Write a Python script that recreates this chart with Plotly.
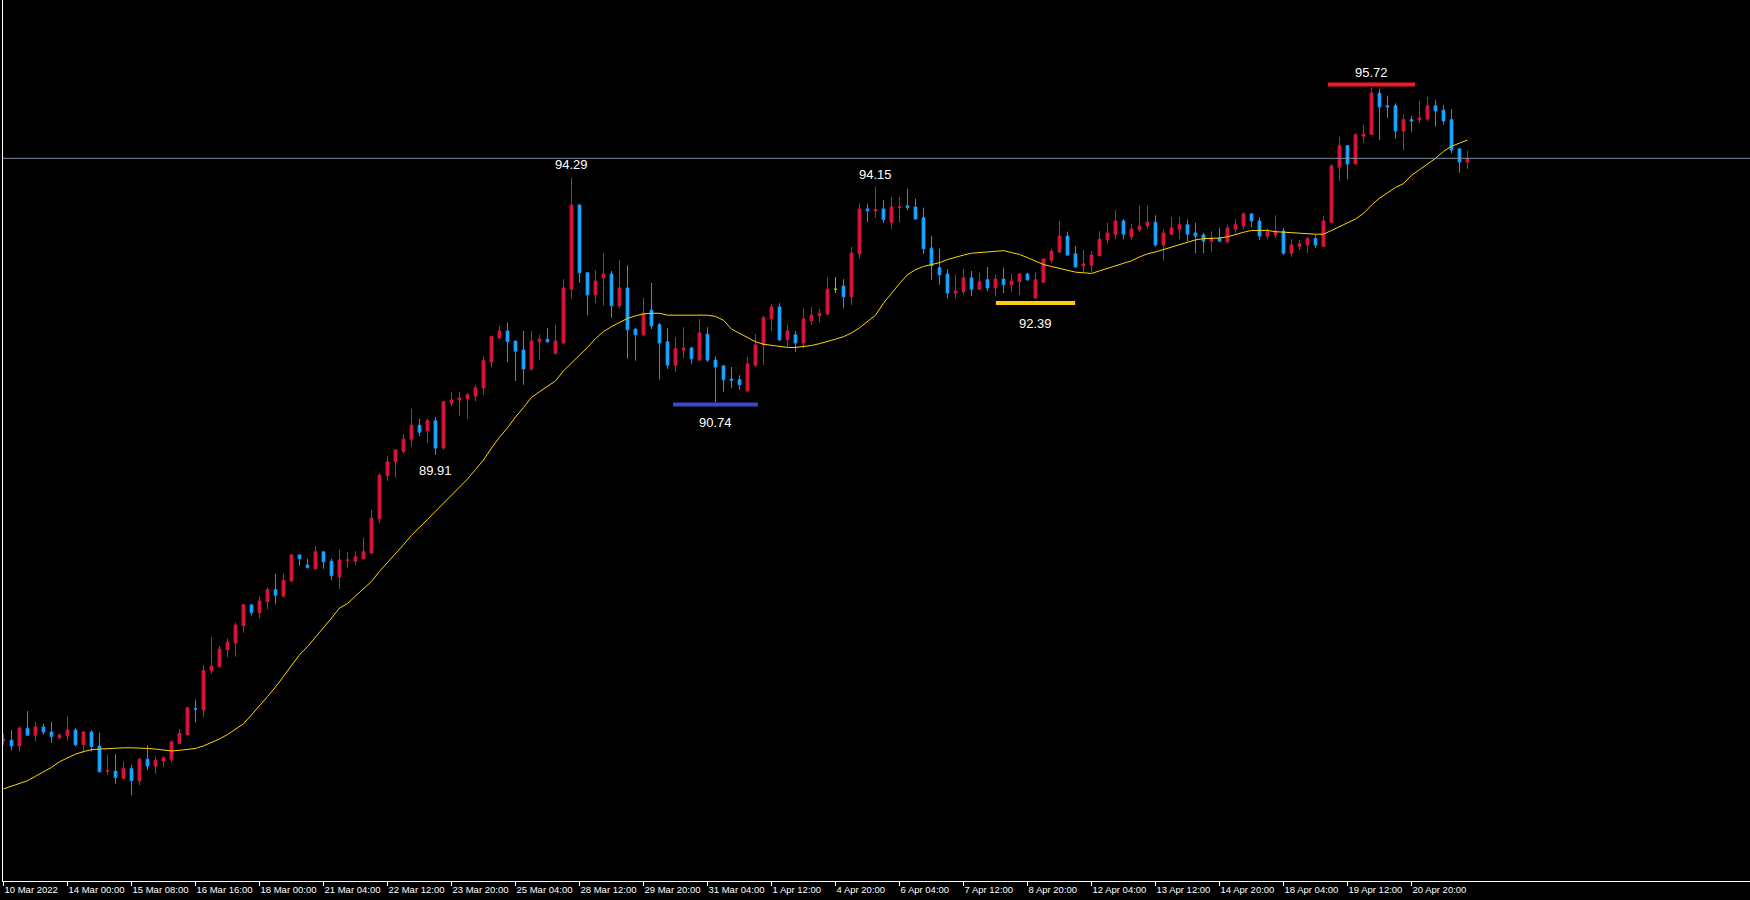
import plotly.graph_objects as go

# ---- OHLC data (4H bars) ----
opens = [85.39,85.40,85.31,85.59,85.48,85.61,85.53,85.44,85.47,85.56,85.33,85.53,85.31,84.91,84.91,84.80,84.95,84.76,85.10,84.99,
         85.07,85.10,85.35,85.49,85.90,85.88,86.50,86.56,86.83,86.94,87.21,87.54,87.42,87.59,87.78,87.68,87.92,88.33,88.17,88.11,
         88.38,88.23,87.98,88.24,88.23,88.27,88.36,88.90,89.58,89.80,89.97,90.16,90.38,90.29,90.45,90.02,90.73,90.78,90.80,90.84,
         90.97,91.38,91.76,91.87,91.71,91.57,91.27,91.70,91.74,91.52,91.68,92.53,93.86,92.79,92.44,92.71,92.77,92.27,92.55,91.90,
         91.81,92.20,91.97,91.70,91.33,91.57,91.60,91.41,91.82,91.41,91.32,91.11,91.10,90.92,91.33,91.65,92.06,92.25,91.73,91.81,
         91.68,92.03,92.11,92.14,92.53,92.58,92.41,93.09,93.80,93.77,93.80,93.59,93.82,93.85,93.83,93.66,93.18,92.87,92.77,92.47,
         92.49,92.71,92.53,92.68,92.55,92.69,92.60,92.65,92.77,92.39,92.64,92.99,93.12,93.37,93.09,92.90,92.91,93.06,93.31,93.40,
         93.61,93.36,93.47,93.53,93.59,93.23,93.40,93.48,93.55,93.42,93.39,93.29,93.34,93.28,93.48,93.53,93.72,93.61,93.37,93.39,
         93.45,93.10,93.21,93.23,93.33,93.21,93.59,94.46,94.80,94.51,94.95,94.98,95.63,95.43,95.43,95.03,95.21,95.21,95.22,95.43,
         95.36,95.21,94.75,94.54]
highs = [85.50,85.56,85.62,85.86,85.69,85.66,85.69,85.51,85.78,85.59,85.54,85.56,85.52,85.17,85.18,85.06,85.01,85.12,85.32,85.14,
         85.15,85.40,85.58,85.93,86.04,86.59,87.03,86.89,87.01,87.26,87.55,87.54,87.68,87.82,88.03,88.03,88.34,88.33,88.27,88.47,
         88.38,88.27,88.41,88.38,88.39,88.60,89.04,89.62,89.89,89.99,90.24,90.64,90.48,90.49,90.51,90.76,90.91,90.91,90.89,91.02,
         91.47,91.79,91.95,92.00,91.72,91.87,91.87,91.81,91.92,91.97,92.69,94.29,93.88,92.80,92.83,93.10,92.82,92.99,92.91,91.91,
         92.39,92.63,92.00,91.92,91.77,91.93,91.62,92.06,91.93,91.47,91.32,91.30,91.17,91.46,91.82,92.11,92.30,92.31,91.97,91.87,
         92.23,92.25,92.22,92.72,92.72,92.69,93.20,93.89,93.88,94.15,93.94,93.99,93.99,94.12,93.96,93.82,93.37,93.17,92.85,92.76,
         92.85,92.82,92.79,92.88,92.76,92.87,92.77,92.79,92.79,92.80,93.01,93.17,93.61,93.44,93.21,93.15,93.13,93.45,93.58,93.78,
         93.64,93.56,93.85,93.85,93.70,93.47,93.67,93.67,93.63,93.58,93.42,93.45,93.50,93.55,93.64,93.75,93.73,93.67,93.50,93.70,
         93.50,93.32,93.31,93.36,93.39,93.69,94.51,94.94,94.81,95.00,95.13,95.72,95.70,95.59,95.47,95.29,95.27,95.51,95.57,95.52,
         95.44,95.38,94.75,94.72]
lows = [85.32,85.24,85.22,85.47,85.38,85.49,85.36,85.41,85.39,85.30,85.20,85.22,84.89,84.85,84.71,84.78,84.53,84.69,84.93,84.87,
        84.97,85.05,85.34,85.47,85.68,85.76,86.45,86.55,86.71,86.72,87.10,87.37,87.33,87.47,87.55,87.65,87.90,88.16,88.11,88.10,
        88.11,87.93,87.79,88.12,88.17,88.26,88.35,88.83,89.50,89.55,89.93,90.04,90.21,90.10,89.91,89.99,90.68,90.53,90.48,90.76,
        90.86,91.29,91.76,91.38,91.08,91.02,91.24,91.41,91.68,91.49,91.67,92.38,92.63,92.12,92.31,92.27,92.08,92.23,91.43,91.40,
        91.79,91.90,91.10,91.27,91.22,91.44,91.35,91.40,91.38,90.74,90.91,90.97,90.94,90.92,91.30,91.33,91.87,91.71,91.62,91.54,
        91.60,91.97,92.01,92.12,92.47,92.23,92.28,93.02,93.59,93.66,93.58,93.48,93.59,93.78,93.63,93.09,92.68,92.60,92.38,92.38,
        92.44,92.42,92.52,92.50,92.42,92.47,92.49,92.44,92.66,92.39,92.64,92.94,93.10,93.06,92.88,92.80,92.80,93.05,93.25,93.32,
        93.32,93.31,93.44,93.48,93.20,92.98,93.39,93.32,93.29,93.10,93.10,93.12,93.28,93.25,93.42,93.48,93.51,93.31,93.32,93.34,
        93.07,93.04,93.15,93.10,93.18,93.20,93.58,94.24,94.27,94.51,94.84,94.97,94.89,95.24,94.91,94.73,95.02,95.16,95.19,95.10,
        95.13,94.68,94.37,94.43]
closes = [85.41,85.31,85.59,85.48,85.61,85.53,85.46,85.48,85.56,85.33,85.53,85.30,84.90,84.92,84.81,84.95,84.76,85.10,84.99,85.08,
          85.12,85.37,85.51,85.91,85.89,86.50,86.57,86.84,86.95,87.22,87.54,87.42,87.60,87.78,87.69,87.93,88.33,88.27,88.13,88.38,
          88.22,88.00,88.25,88.25,88.30,88.38,88.91,89.59,89.80,89.99,90.16,90.38,90.27,90.45,90.02,90.75,90.78,90.81,90.86,90.97,
          91.40,91.78,91.87,91.70,91.55,91.27,91.71,91.74,91.70,91.71,92.55,93.86,92.79,92.44,92.66,92.77,92.27,92.55,91.89,91.81,
          92.15,91.95,91.68,91.33,91.59,91.60,91.43,91.84,91.41,91.30,91.10,91.09,91.02,91.35,91.65,92.08,92.25,91.73,91.87,91.68,
          92.06,92.12,92.15,92.53,92.53,92.41,93.10,93.80,93.77,93.79,93.63,93.83,93.83,93.82,93.64,93.17,92.90,92.76,92.47,92.50,
          92.71,92.53,92.65,92.55,92.69,92.60,92.66,92.77,92.68,92.68,93.01,93.13,93.37,93.07,92.88,92.93,93.07,93.32,93.42,93.61,
          93.40,93.48,93.53,93.59,93.23,93.42,93.50,93.55,93.40,93.37,93.29,93.34,93.29,93.50,93.55,93.72,93.61,93.37,93.44,93.45,
          93.10,93.23,93.25,93.33,93.23,93.61,94.48,94.80,94.51,94.97,94.98,95.63,95.41,95.41,95.03,95.21,95.19,95.24,95.43,95.35,
          95.19,94.73,94.54,94.60]

# ---- moving average indicator ----
ma = [84.63,84.67,84.71,84.76,84.83,84.90,84.97,85.06,85.12,85.18,85.22,85.25,85.26,85.27,85.27,85.28,85.28,85.28,85.27,85.26,
      85.24,85.23,85.24,85.26,85.27,85.31,85.36,85.42,85.49,85.57,85.66,85.80,85.94,86.09,86.24,86.41,86.59,86.75,86.88,87.03,
      87.17,87.33,87.49,87.56,87.68,87.79,87.91,88.07,88.21,88.34,88.49,88.64,88.76,88.89,89.02,89.15,89.28,89.41,89.53,89.68,
      89.83,90.02,90.19,90.34,90.51,90.66,90.82,90.91,90.99,91.08,91.24,91.36,91.49,91.61,91.75,91.86,91.94,92.00,92.07,92.11,
      92.14,92.15,92.15,92.12,92.12,92.13,92.13,92.13,92.12,92.10,92.04,91.90,91.83,91.77,91.70,91.66,91.64,91.62,91.61,91.61,
      91.62,91.64,91.67,91.70,91.74,91.78,91.84,91.92,92.02,92.12,92.31,92.47,92.62,92.76,92.84,92.89,92.92,92.95,93.00,93.04,
      93.07,93.10,93.11,93.12,93.13,93.14,93.11,93.08,93.03,92.98,92.92,92.89,92.86,92.83,92.80,92.79,92.78,92.82,92.86,92.91,
      92.95,92.98,93.04,93.09,93.12,93.16,93.20,93.23,93.27,93.31,93.33,93.33,93.34,93.36,93.40,93.43,93.46,93.46,93.46,93.44,
      93.43,93.43,93.41,93.40,93.40,93.40,93.46,93.51,93.57,93.64,93.73,93.86,93.97,94.06,94.14,94.20,94.33,94.42,94.51,94.60,
      94.71,94.79,94.84,94.89]

# ---- time axis labels ----
tick_bars = [0, 8, 16, 24, 32, 40, 48, 56, 64, 72, 80, 88, 96, 104, 112, 120, 128, 136, 144, 152, 160, 168, 176]
tick_labels = ["10 Mar 2022", "14 Mar 00:00", "15 Mar 08:00", "16 Mar 16:00", "18 Mar 00:00", "21 Mar 04:00",
               "22 Mar 12:00", "23 Mar 20:00", "25 Mar 04:00", "28 Mar 12:00", "29 Mar 20:00", "31 Mar 04:00",
               "1 Apr 12:00", "4 Apr 20:00", "6 Apr 04:00", "7 Apr 12:00", "8 Apr 20:00", "12 Apr 04:00",
               "13 Apr 12:00", "14 Apr 20:00", "18 Apr 04:00", "19 Apr 12:00", "20 Apr 20:00"]

# doji bars drawn in the neutral (green) colour
doji_bars = [104]

# marked extremes: bar index, which price ("high"/"low")
mark_bars = [171, 71, 109, 54, 89, 129]
mark_kind = ["high", "high", "high", "low", "low", "low"]
# horizontal markers: centre bar, half width in bars
seg_bars = [171, 89, 129]
seg_kind = ["high", "low", "low"]
seg_half = [5.45, 5.3, 4.95]
seg_colors = ["#ED1C24", "#3F48CC", "#FFC90E"]
seg_offsets = [3, -2, -5]
label_offsets = [14.5, 13, 12, -16, -20, -25]

x = list(range(len(opens)))

fig = go.Figure()
fig.add_trace(go.Candlestick(
    x=x, open=opens, high=highs, low=lows, close=closes,
    increasing=dict(line=dict(color="#DC143C", width=1), fillcolor="#DC143C"),
    decreasing=dict(line=dict(color="#1E90FF", width=1), fillcolor="#00BFFF"),
    whiskerwidth=0, hoverinfo="skip", showlegend=False))
fig.add_trace(go.Candlestick(
    x=doji_bars, open=[opens[i] for i in doji_bars], high=[highs[i] for i in doji_bars],
    low=[lows[i] for i in doji_bars], close=[closes[i] for i in doji_bars],
    increasing=dict(line=dict(color="#00FF00", width=1), fillcolor="#00FF00"),
    decreasing=dict(line=dict(color="#00FF00", width=1), fillcolor="#00FF00"),
    whiskerwidth=0, hoverinfo="skip", showlegend=False))
fig.add_trace(go.Scatter(x=x, y=ma, mode="lines", line=dict(color="#FFD700", width=1),
                         hoverinfo="skip", showlegend=False))

# current price line
fig.add_shape(type="line", xref="paper", x0=0, x1=1, yref="y", y0=closes[-1], y1=closes[-1],
              line=dict(color="#8090A0", width=1))

for b, k, h, c, off in zip(seg_bars, seg_kind, seg_half, seg_colors, seg_offsets):
    v = highs[b] if k == "high" else lows[b]
    fig.add_shape(type="rect", xref="x", x0=b - h, x1=b + h, yref="y", ysizemode="pixel",
                  yanchor=v, y0=off - 2, y1=off + 2, fillcolor=c, line=dict(width=0))

for b, k, off in zip(mark_bars, mark_kind, label_offsets):
    v = highs[b] if k == "high" else lows[b]
    fig.add_annotation(x=b, y=v, text=f"{v:.2f}", showarrow=False, yshift=off,
                       xanchor="center", yanchor="middle",
                       font=dict(family="Liberation Sans", size=13, color="#FFFFFF"))

px_per_bar = 8.0
plot_w = 1750 - 3
x0 = -(3.5 - 3) / px_per_bar
fig.update_layout(
    width=1750, height=900,
    margin=dict(l=3, r=0, t=0, b=19, pad=0),
    paper_bgcolor="#000000", plot_bgcolor="#000000",
    showlegend=False, boxgap=0.5,
    xaxis=dict(range=[x0, x0 + plot_w / px_per_bar], showgrid=False, zeroline=False,
               showline=True, linecolor="#FFFFFF", linewidth=1, automargin=False,
               ticks="outside", ticklen=4, tickcolor="#FFFFFF", tickwidth=1, tickangle=0,
               tickvals=tick_bars, ticktext=tick_labels, ticklabelposition="outside right",
               tickfont=dict(family="Liberation Sans", size=9.5, color="#FFFFFF"),
               rangeslider=dict(visible=False), fixedrange=True),
    yaxis=dict(range=[83.174, 97.103], showgrid=False, zeroline=False, automargin=False,
               showline=True, linecolor="#FFFFFF", linewidth=1,
               showticklabels=False, ticks="", fixedrange=True),
)

fig.write_html("out.html", config={"displayModeBar": False},
               post_script="document.body.style.margin='0';document.body.style.background='#000';")
